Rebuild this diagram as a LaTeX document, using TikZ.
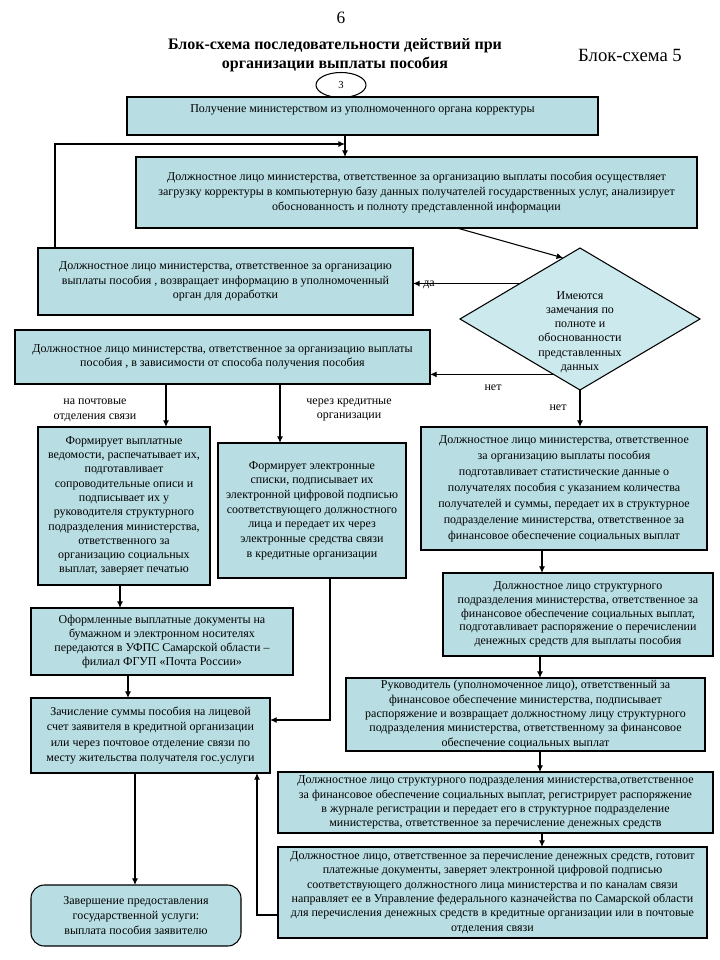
\documentclass[tikz,border=0pt]{standalone}
\usepackage{fontspec}
\setmainfont{Liberation Serif}
\usetikzlibrary{arrows.meta,shapes.geometric,calc}
\definecolor{boxfill}{RGB}{184,222,227}
\definecolor{diafill}{RGB}{204,233,237}
\newcommand\mybox[7][]{\node[box,#1,minimum width={(#5-#3)*0.75pt},minimum height={(#6-#4)*0.75pt}] (#2) at ({(#3+#5)/2},{(#4+#6)/2}) {#7};}
\newcommand\fs[1]{\fontsize{9}{#1}\selectfont}
\begin{document}
\begin{tikzpicture}[x=0.75pt,y=-0.75pt,
  box/.style={draw=black,line width=0.8pt,fill=boxfill,inner sep=0pt,outer sep=0pt,align=center,font=\fs{11}},
  lbl/.style={inner sep=0pt,align=center,font=\fontsize{9}{11}\selectfont},
  arr/.style={draw=black,line width=0.8pt,-{Latex[length=5pt,width=4.5pt]}},
  ln/.style={draw=black,line width=0.8pt}]
\useasboundingbox[fill=white] (0,0) rectangle (720,960);
% titles
\node[lbl,font=\fontsize{13}{15}\selectfont] (pg) at (341,18) {6};
\node[lbl,font=\fontsize{12}{14}\selectfont\bfseries] (title) at (335,55) {Блок-схема последовательности действий при\\ организации выплаты пособия};
\node[lbl,font=\fontsize{14}{16}\selectfont] (bs) at (630,55) {Блок-схема 5};
\node[draw=black,line width=0.8pt,ellipse,minimum width=50*0.75pt,minimum height=25*0.75pt,inner sep=0pt,font=\fontsize{8}{10}\selectfont,fill=white] (c3) at (341,85) {3};
% boxes
\mybox{b1}{127}{97}{598}{135}{Получение министерством  из уполномоченного  органа корректуры\\ \mbox{}}
\mybox{b2}{136}{157}{697}{228}{Должностное лицо министерства,  ответственное за организацию выплаты  пособия осуществляет\\ загрузку корректуры в компьютерную базу данных получателей  государственных  услуг, анализирует\\ обоснованность  и полноту  представленной  информации}
\mybox{b3}{38}{248}{413}{315}{Должностное лицо министерства,  ответственное за организацию\\ выплаты пособия , возвращает информацию  в уполномоченный\\ орган для доработки}
\node[draw=black,line width=0.8pt,diamond,fill=diafill,minimum width=240*0.75pt,minimum height=142*0.75pt,inner sep=0pt,outer sep=0pt] (dia) at (580,319) {};
\node[lbl,font=\fs{10.7}] (diat) at (580,332) {Имеются\\ замечания по\\ полноте и\\ обоснованности\\ представленных\\ данных};
\mybox[font=\fs{10.5}]{b4}{15}{330}{430}{384}{Должностное лицо министерства,  ответственное за организацию  выплаты\\ пособия , в зависимости от способа получения пособия}
\mybox[font=\fs{10.7}]{b6}{38}{427}{210}{585}{Формирует выплатные\\ ведомости, распечатывает  их,\\ подготавливает\\ сопроводительные  описи и\\ подписывает  их у\\ руководителя структурного\\ подразделения  министерства,\\ ответственного  за\\ организацию  социальных\\ выплат, заверяет печатью}
\mybox{b7}{218}{443}{406}{578}{Формирует  электронные\\ списки, подписывает  их\\ электронной цифровой подписью\\ соответствующего должностного\\ лица и передает  их через\\ электронные  средства связи\\ в кредитные организации}
\mybox[font=\fs{12}]{b5}{421}{427}{707}{550}{Должностное  лицо  министерства,  ответственное\\ за организацию  выплаты пособия\\ подготавливает  статистические  данные о\\ получателях пособия  с указанием количества\\ получателей  и  суммы, передает  их в структурное\\ подразделение  министерства,  ответственное за\\ финансовое  обеспечение  социальных  выплат}
\mybox[font=\fs{10.3}]{b8}{443}{573}{713}{656}{Должностное  лицо  структурного\\ подразделения  министерства,  ответственное  за\\ финансовое  обеспечение  социальных  выплат,\\ подготавливает  распоряжение  о перечислении\\ денежных  средств  для выплаты пособия}
\mybox[font=\fs{10.5}]{b9}{31}{608}{293}{675}{Оформленные выплатные документы на\\ бумажном и электронном  носителях\\ передаются  в УФПС Самарской области –\\ филиал  ФГУП «Почта России»}
\mybox[font=\fs{11.6}]{b10}{31}{698}{270}{773}{Зачисление  суммы пособия  на лицевой\\ счет заявителя в кредитной  организации\\ или  через почтовое отделение  связи  по\\ месту жительства  получателя  гос.услуги}
\mybox[font=\fs{10.7}]{b11}{346}{678}{705}{751}{Руководитель  (уполномоченное лицо), ответственный  за\\ финансовое  обеспечение  министерства,   подписывает\\ распоряжение  и возвращает должностному  лицу структурного\\ подразделения  министерства,  ответственному  за финансовое\\ обеспечение  социальных  выплат}
\mybox[font=\fs{10.7}]{b12}{278}{772}{713}{833}{Должностное  лицо  структурного  подразделения  министерства,ответственное\\ за финансовое  обеспечение  социальных  выплат,  регистрирует  распоряжение\\ в журнале регистрации   и передает  его в структурное подразделение\\ министерства,  ответственное  за перечисление  денежных  средств}
\mybox[font=\fs{10.8}]{b13}{278}{847}{707}{938}{Должностное лицо, ответственное за перечисление  денежных средств, готовит\\ платежные документы, заверяет  электронной цифровой подписью\\ соответствующего  должностного  лица  министерства  и по каналам связи\\ направляет ее в Управление федерального казначейства по Самарской области\\ для перечисления  денежных  средств в кредитные организации  или в почтовые\\ отделения связи}
\node[box,rounded corners=10pt,minimum width={210*0.75pt},minimum height={61*0.75pt}] (b14) at (136,915.5) {Завершение предоставления\\ государственной  услуги:\\ выплата пособия  заявителю};
% labels
\node[lbl] (lpost) at (95,410) {на почтовые\\ отделения связи};
\node[lbl] (lcred) at (349,410) {через кредитные\\ организации};
\node[lbl] (lda) at (429,285) {да};
\node[lbl] (lnet1) at (493,388) {нет};
\node[lbl] (lnet2) at (558,408) {нет};
% connectors
\coordinate (j1) at (345,144);
\draw[arr] (b1.south -| 345,0) -- (b2.north -| 345,0);
\draw[arr] (b3.north -| 55,0) |- (j1);
\draw[arr] (b2.south -| 457,0) -- ($(dia.north)!0.14!(dia.west)$);
\draw[arr] (dia.north west) -- (b3.east |- dia.north west);
\coordinate (dn) at ($(dia.west)!0.78!(dia.south)$);
\draw[arr] (dn) -- (b4.east |- dn);
\draw[arr] (dia.south) -- (b5.north -| dia.south);
\draw[arr] (b4.south -| 166,0) -- (b6.north -| 166,0);
\draw[arr] (b4.south -| 280,0) -- (b7.north -| 280,0);
\draw[arr] (b5.south -| 542,0) -- (b8.north -| 542,0);
\draw[arr] (b8.south -| 540,0) -- (b11.north -| 540,0);
\draw[arr] (b11.south -| 540,0) -- (b12.north -| 540,0);
\draw[arr] (b12.south -| 542,0) -- (b13.north -| 542,0);
\draw[arr] (b6.south -| 120,0) -- (b9.north -| 120,0);
\draw[arr] (b9.south -| 128,0) -- (b10.north -| 128,0);
\draw[arr] (b7.south -| 330,0) |- (b10.east |- 0,720);
\draw[arr] (b13.west |- 0,915) -| (b10.south -| 257,0);
\draw[arr] (b10.south -| 135,0) -- (b14.north -| 135,0);
\end{tikzpicture}
\end{document}
